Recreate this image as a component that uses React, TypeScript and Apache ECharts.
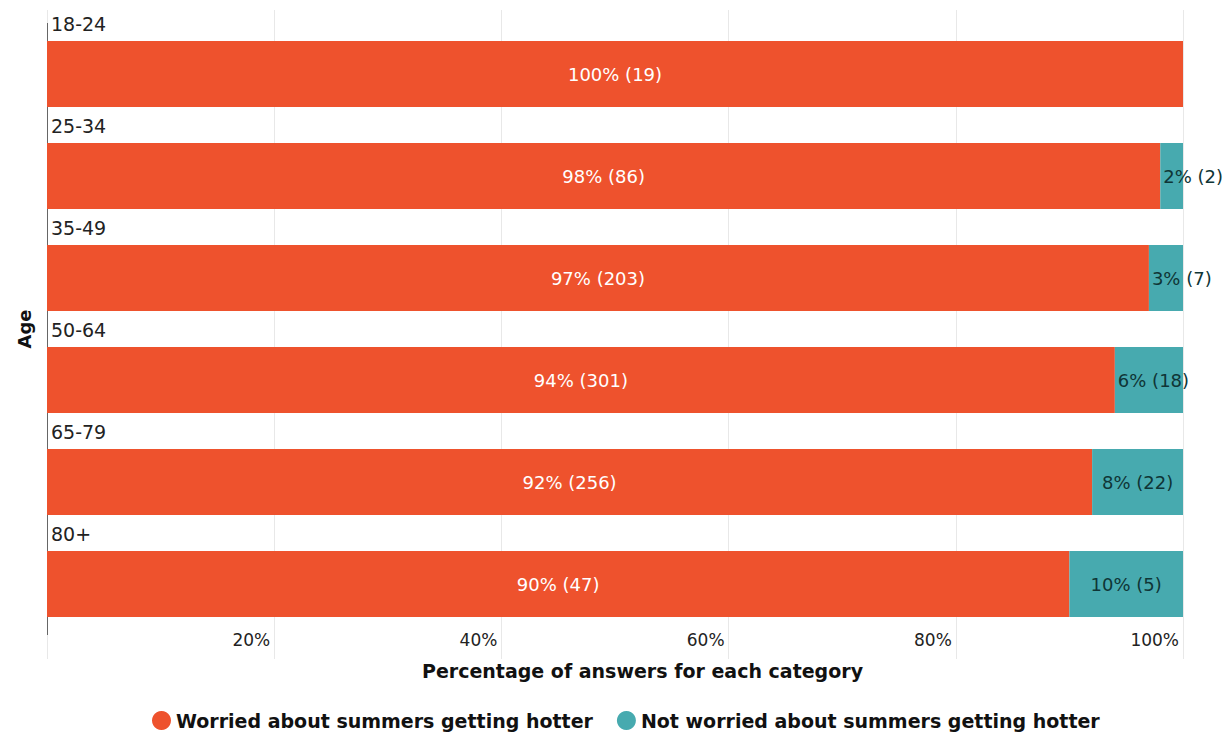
import React, { useEffect, useRef } from "react";
import * as echarts from "echarts";

const categories = ["18-24", "25-34", "35-49", "50-64", "65-79", "80+"];
const worriedPct = [100, 98, 97, 94, 92, 90];
const worriedCount = [19, 86, 203, 301, 256, 47];
const notWorriedPct = [0, 2, 3, 6, 8, 10];
const notWorriedCount = [0, 2, 7, 18, 22, 5];
const xTicks = [0, 20, 40, 60, 80, 100];

const FONT = "DejaVu Sans";
const RED = "#EE522D";
const TEAL = "#47AAAF";
const GRID = "#e8e8e8";

export default function App() {
  const ref = useRef<HTMLDivElement>(null);
  useEffect(() => {
    if (!ref.current) return;
    const chart = echarts.init(ref.current, null, { renderer: "svg" });
    const option = {
      animation: false,
      textStyle: { fontFamily: FONT },
      grid: { left: 47, right: 46, top: 23, bottom: 98, containLabel: false },
      legend: {
        top: 706,
        left: 147,
        icon: "circle",
        itemWidth: 19,
        itemHeight: 19,
        itemGap: 24,
        textStyle: { fontFamily: FONT, fontSize: 19, fontWeight: "bold", color: "#111" },
        data: ["Worried about summers getting hotter", "Not worried about summers getting hotter"],
      },
      xAxis: [
        {
          type: "value",
          position: "bottom",
          min: xTicks[0],
          max: xTicks[xTicks.length - 1],
          interval: 20,
          axisLine: { show: false },
          axisTick: { show: true, length: 24, lineStyle: { color: GRID } },
          splitLine: { show: true, lineStyle: { color: GRID } },
          axisLabel: {
            formatter: (v: number) => (v === 0 ? "" : `${v}%`),
            align: "right",
            verticalAlign: "middle",
            margin: 5,
            padding: [0, 4, 0, 0],
            fontSize: 17,
            color: "#222",
            fontFamily: FONT,
          },
          name: "Percentage of answers for each category",
          nameLocation: "middle",
          nameGap: 26,
          nameTextStyle: {
            fontFamily: FONT,
            fontSize: 19,
            fontWeight: "bold",
            color: "#111",
            padding: [0, 0, 0, 55],
          },
        },
        {
          type: "value",
          position: "top",
          min: xTicks[0],
          max: xTicks[xTicks.length - 1],
          interval: 20,
          axisLine: { show: false },
          axisTick: { show: true, length: 13, lineStyle: { color: GRID } },
          splitLine: { show: false },
          axisLabel: { show: false },
        },
      ],
      yAxis: {
        type: "category",
        inverse: true,
        data: categories,
        axisLine: { show: true, lineStyle: { color: "#666", width: 1 } },
        axisTick: { show: false },
        axisLabel: {
          inside: true,
          margin: 4,
          align: "left",
          verticalAlign: "bottom",
          padding: [0, 0, 41, 0],
          fontSize: 19,
          color: "#222",
          fontFamily: FONT,
        },
        name: "Age",
        nameLocation: "middle",
        nameGap: 14,
        nameRotate: 90,
        nameTextStyle: { fontFamily: FONT, fontSize: 18, fontWeight: "bold", color: "#111" },
      },
      series: [
        {
          name: "Worried about summers getting hotter",
          type: "bar",
          stack: "total",
          barWidth: 66,
          itemStyle: { color: RED },
          data: worriedPct,
          label: {
            show: true,
            position: "inside",
            color: "#fff",
            fontSize: 18,
            fontFamily: FONT,
            formatter: (p: any) => (p.value ? `${p.value}% (${worriedCount[p.dataIndex]})` : ""),
          },
        },
        {
          name: "Not worried about summers getting hotter",
          type: "bar",
          stack: "total",
          barWidth: 66,
          itemStyle: { color: TEAL },
          data: notWorriedPct.map((v) => ({
            value: v,
            label: v < 8 ? { position: "insideLeft", distance: 3 } : { position: "inside" },
          })),
          label: {
            show: true,
            color: "#0f3536",
            fontSize: 18,
            fontFamily: FONT,
            formatter: (p: any) => (p.value ? `${p.value}% (${notWorriedCount[p.dataIndex]})` : ""),
          },
        },
      ],
    };
    chart.setOption(option as any);
    return () => chart.dispose();
  }, []);
  return (
    <div
      ref={ref}
      style={{ position: "fixed", left: 0, top: 0, width: 1229, height: 733, background: "#fff" }}
    />
  );
}
